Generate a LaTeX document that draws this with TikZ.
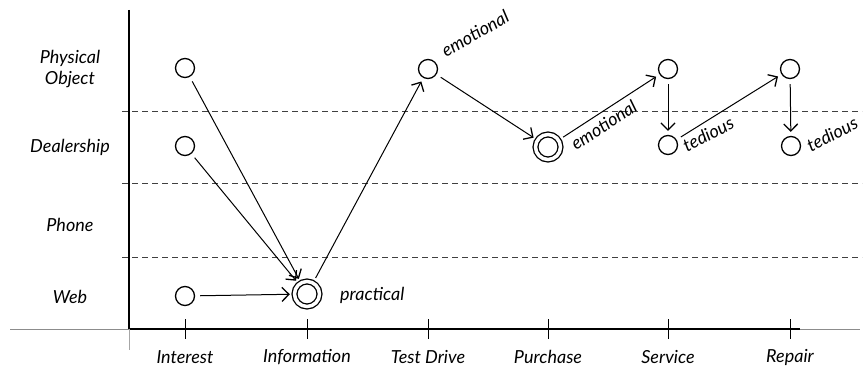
\documentclass[tikz,border=0pt]{standalone}
\usepackage{fontspec}
\setmainfont{Lato}
\usetikzlibrary{arrows.meta}

\begin{document}
\begin{tikzpicture}[x=1pt,y=-1pt]
  \tikzstyle{every node}=[font=\fontsize{18}{21}\selectfont\itshape]
  \tikzstyle{touch}=[circle,draw,line width=1.3pt,minimum size=19pt,inner sep=0pt]
  \tikzstyle{peak}=[touch,double,double distance=3.5pt,minimum size=25pt]
  \tikzstyle{move}=[line width=1pt,-{Straight Barb[length=7pt,width=14pt,line width=1.3pt]},shorten <=5pt,shorten >=4pt]
  \tikzstyle{lane}=[dash pattern=on 6pt off 4pt,line width=0.9pt,black!75]
  \tikzstyle{feel}=[inner sep=0pt,anchor=base west]
  \useasboundingbox (0,0) rectangle (864,369);

  % channel lanes and axes
  \foreach \y in {111,183,257}
    \draw[lane] (122,\y) -- (862,\y);
  \draw[line width=1pt,black!45] (10,329) -- (129,329);
  \draw[line width=1.1pt] (129,329) -- (800,329);
  \draw[line width=1pt,black!45] (800,329) -- (860,329);
  \draw[line width=1.1pt] (129,10) -- (129,329);
  \draw[line width=1pt,black!35] (129,329) -- (129,350);

  % channels
  \node (chPhys) at (70,69) [align=center] {Physical\\Object};
  \node (chDeal) at (70,147) {Dealership};
  \node (chPhone) at (70,225) {Phone};
  \node (chWeb) at (70,297) {Web};

  % stages with ticks
  \foreach \name/\x/\txt in {int/185/Interest,info/307/Information,td/428/Test Drive,
                             pur/548/Purchase,svc/668/Service,rep/790/Repair} {
    \draw[line width=1pt] (\x,319) -- (\x,339);
    \node (st\name) at (\x,357) {\txt};
  }

  % touchpoints
  \node[touch] (intPhys) at (185,68) {};
  \node[touch] (intDeal) at (185,146) {};
  \node[touch] (intWeb)  at (185,296) {};
  \node[peak]  (infoWeb) at (307,294) {};
  \node[touch] (tdPhys)  at (428,69) {};
  \node[peak]  (purDeal) at (548,147) {};
  \node[touch] (svcPhys) at (668,69) {};
  \node[touch] (svcDeal) at (668,145) {};
  \node[touch] (repPhys) at (790,69) {};
  \node[touch] (repDeal) at (791,146) {};

  \draw[move] (intPhys) -- (infoWeb);
  \draw[move] (intDeal) -- (infoWeb);
  \draw[move] (intWeb) -- (infoWeb);
  \draw[move] (infoWeb) -- (tdPhys);
  \draw[move] (tdPhys) -- (purDeal);
  \draw[move] (purDeal) -- (svcPhys);
  \draw[move] (svcPhys) -- (svcDeal);
  \draw[move] (svcDeal) -- (repPhys);
  \draw[move] (repPhys) -- (repDeal);

  % feelings
  \node[feel] (fInfo) at (340,300) {practical};
  \node[feel,rotate=30] (fTd) at (446,58) {emotional};
  \node[feel,rotate=33] (fPur) at (576,151) {emotional};
  \node[feel,rotate=28] (fSvc) at (687,153) {tedious};
  \node[feel,rotate=28] (fRep) at (811,153) {tedious};
\end{tikzpicture}
\end{document}
